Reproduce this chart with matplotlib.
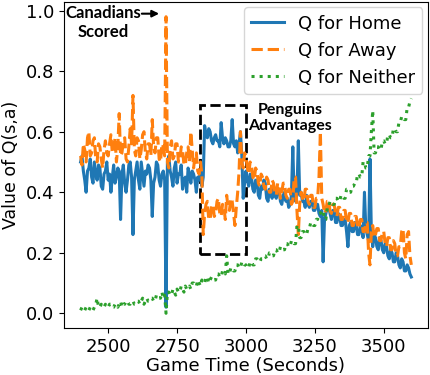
import numpy as np
import matplotlib
matplotlib.use('Agg')
import matplotlib.pyplot as plt
from matplotlib.patches import Rectangle

# Q values sampled every 5 seconds from 2400 s to 3600 s (one row = 100 s)
start_time = 2400
step = 5

q_home = [
    0.50, 0.52, 0.47, 0.44, 0.40, 0.47, 0.48, 0.51, 0.45, 0.43, 0.50, 0.46, 0.44, 0.49, 0.48, 0.42, 0.41, 0.46, 0.47, 0.50,  # 2400
    0.44, 0.46, 0.40, 0.45, 0.49, 0.43, 0.45, 0.48, 0.47, 0.31, 0.46, 0.49, 0.43, 0.40, 0.44, 0.49, 0.50, 0.45, 0.26, 0.44,  # 2500
    0.47, 0.50, 0.44, 0.41, 0.50, 0.46, 0.42, 0.47, 0.46, 0.49, 0.48, 0.44, 0.32, 0.43, 0.45, 0.50, 0.49, 0.44, 0.42, 0.46,  # 2600
    0.47, 0.44, 0.02, 0.50, 0.52, 0.47, 0.45, 0.42, 0.48, 0.50, 0.43, 0.46, 0.46, 0.49, 0.41, 0.44, 0.45, 0.40, 0.48, 0.46,  # 2700
    0.43, 0.47, 0.46, 0.44, 0.40, 0.45, 0.44, 0.47, 0.42, 0.45, 0.62, 0.59, 0.58, 0.61, 0.60, 0.57, 0.56, 0.58, 0.59, 0.57,  # 2800
    0.57, 0.55, 0.63, 0.58, 0.56, 0.58, 0.57, 0.55, 0.55, 0.57, 0.64, 0.56, 0.55, 0.57, 0.53, 0.56, 0.60, 0.52, 0.38, 0.43,  # 2900
    0.47, 0.44, 0.42, 0.46, 0.45, 0.41, 0.40, 0.44, 0.44, 0.39, 0.38, 0.42, 0.41, 0.44, 0.43, 0.38, 0.37, 0.41, 0.40, 0.38,  # 3000
    0.42, 0.39, 0.38, 0.41, 0.41, 0.37, 0.36, 0.39, 0.40, 0.37, 0.38, 0.35, 0.36, 0.39, 0.55, 0.38, 0.37, 0.40, 0.57, 0.39,  # 3100
    0.40, 0.37, 0.37, 0.35, 0.39, 0.36, 0.35, 0.37, 0.37, 0.34, 0.34, 0.36, 0.36, 0.33, 0.32, 0.34, 0.17, 0.31, 0.33, 0.35,  # 3200
    0.36, 0.33, 0.31, 0.34, 0.34, 0.30, 0.30, 0.33, 0.32, 0.29, 0.29, 0.31, 0.31, 0.27, 0.22, 0.29, 0.30, 0.27, 0.27, 0.30,  # 3300
    0.29, 0.26, 0.26, 0.29, 0.28, 0.25, 0.40, 0.28, 0.26, 0.24, 0.51, 0.27, 0.22, 0.26, 0.25, 0.22, 0.21, 0.25, 0.24, 0.21,  # 3400
    0.20, 0.23, 0.22, 0.19, 0.18, 0.21, 0.20, 0.17, 0.17, 0.20, 0.19, 0.16, 0.15, 0.18, 0.17, 0.14, 0.14, 0.16, 0.15, 0.13,  # 3500
    0.12,                                                                                                                    # 3600
]

q_away = [
    0.52, 0.49, 0.56, 0.54, 0.50, 0.58, 0.60, 0.52, 0.53, 0.57, 0.58, 0.51, 0.50, 0.56, 0.55, 0.51, 0.48, 0.54, 0.57, 0.53,  # 2400
    0.52, 0.56, 0.59, 0.53, 0.54, 0.58, 0.50, 0.55, 0.66, 0.52, 0.53, 0.57, 0.58, 0.51, 0.50, 0.55, 0.61, 0.56, 0.72, 0.54,  # 2500
    0.52, 0.58, 0.57, 0.51, 0.54, 0.59, 0.60, 0.53, 0.51, 0.56, 0.56, 0.52, 0.64, 0.55, 0.53, 0.58, 0.58, 0.51, 0.50, 0.56,  # 2600
    0.55, 0.52, 0.98, 0.50, 0.48, 0.55, 0.57, 0.51, 0.52, 0.56, 0.56, 0.50, 0.50, 0.55, 0.54, 0.49, 0.49, 0.53, 0.55, 0.50,  # 2700
    0.60, 0.54, 0.48, 0.52, 0.53, 0.47, 0.46, 0.50, 0.46, 0.26, 0.33, 0.36, 0.37, 0.31, 0.31, 0.35, 0.36, 0.32, 0.33, 0.37,  # 2800
    0.38, 0.33, 0.32, 0.36, 0.35, 0.31, 0.39, 0.35, 0.34, 0.38, 0.37, 0.33, 0.29, 0.35, 0.40, 0.47, 0.60, 0.50, 0.48, 0.53,  # 2900
    0.52, 0.48, 0.46, 0.50, 0.49, 0.45, 0.44, 0.48, 0.47, 0.43, 0.42, 0.46, 0.45, 0.42, 0.41, 0.45, 0.44, 0.40, 0.40, 0.44,  # 3000
    0.43, 0.40, 0.39, 0.43, 0.42, 0.38, 0.40, 0.43, 0.43, 0.39, 0.38, 0.41, 0.41, 0.36, 0.37, 0.45, 0.45, 0.34, 0.26, 0.36,  # 3100
    0.40, 0.38, 0.37, 0.41, 0.41, 0.37, 0.36, 0.39, 0.39, 0.35, 0.35, 0.38, 0.38, 0.45, 0.60, 0.38, 0.36, 0.33, 0.34, 0.37,  # 3200
    0.37, 0.34, 0.33, 0.36, 0.36, 0.33, 0.32, 0.35, 0.35, 0.31, 0.31, 0.34, 0.34, 0.30, 0.30, 0.33, 0.33, 0.29, 0.29, 0.32,  # 3300
    0.32, 0.29, 0.28, 0.31, 0.31, 0.27, 0.27, 0.30, 0.30, 0.20, 0.16, 0.27, 0.29, 0.25, 0.26, 0.28, 0.28, 0.24, 0.24, 0.27,  # 3400
    0.27, 0.23, 0.22, 0.25, 0.25, 0.21, 0.21, 0.24, 0.23, 0.19, 0.19, 0.22, 0.22, 0.27, 0.28, 0.20, 0.18, 0.26, 0.27, 0.19,  # 3500
    0.16,                                                                                                                    # 3600
]

q_neither = [
    0.01, 0.02, 0.01, 0.01, 0.02, 0.01, 0.01, 0.02, 0.02, 0.01, 0.02, 0.03, 0.05, 0.02, 0.02, 0.03, 0.02, 0.02, 0.03, 0.02,  # 2400
    0.02, 0.03, 0.03, 0.02, 0.02, 0.03, 0.03, 0.02, 0.03, 0.04, 0.02, 0.03, 0.03, 0.04, 0.04, 0.03, 0.03, 0.04, 0.04, 0.03,  # 2500
    0.03, 0.04, 0.04, 0.03, 0.04, 0.05, 0.03, 0.04, 0.05, 0.04, 0.04, 0.05, 0.05, 0.04, 0.04, 0.06, 0.06, 0.05, 0.05, 0.07,  # 2600
    0.05, 0.06, 0.00, 0.07, 0.07, 0.06, 0.06, 0.08, 0.07, 0.06, 0.08, 0.07, 0.07, 0.09, 0.08, 0.07, 0.09, 0.08, 0.08, 0.09,  # 2700
    0.08, 0.10, 0.10, 0.09, 0.09, 0.11, 0.10, 0.09, 0.11, 0.10, 0.10, 0.12, 0.12, 0.10, 0.11, 0.12, 0.12, 0.11, 0.11, 0.13,  # 2800
    0.13, 0.12, 0.12, 0.14, 0.14, 0.13, 0.19, 0.13, 0.13, 0.15, 0.15, 0.14, 0.14, 0.16, 0.16, 0.15, 0.15, 0.17, 0.17, 0.16,  # 2900
    0.16, 0.15, 0.15, 0.17, 0.17, 0.16, 0.16, 0.18, 0.18, 0.17, 0.17, 0.18, 0.18, 0.19, 0.19, 0.18, 0.18, 0.20, 0.20, 0.19,  # 3000
    0.19, 0.21, 0.21, 0.20, 0.20, 0.22, 0.22, 0.21, 0.21, 0.23, 0.23, 0.22, 0.22, 0.24, 0.24, 0.23, 0.23, 0.29, 0.29, 0.25,  # 3100
    0.25, 0.27, 0.27, 0.26, 0.26, 0.28, 0.28, 0.30, 0.30, 0.29, 0.29, 0.31, 0.31, 0.33, 0.33, 0.34, 0.34, 0.31, 0.31, 0.35,  # 3200
    0.35, 0.37, 0.37, 0.36, 0.36, 0.38, 0.38, 0.37, 0.37, 0.39, 0.39, 0.38, 0.38, 0.41, 0.41, 0.40, 0.40, 0.42, 0.42, 0.43,  # 3300
    0.43, 0.46, 0.46, 0.45, 0.45, 0.50, 0.50, 0.48, 0.48, 0.52, 0.52, 0.60, 0.67, 0.53, 0.53, 0.55, 0.55, 0.54, 0.54, 0.57,  # 3400
    0.57, 0.56, 0.56, 0.59, 0.59, 0.58, 0.58, 0.61, 0.61, 0.60, 0.60, 0.63, 0.63, 0.65, 0.65, 0.64, 0.64, 0.68, 0.68, 0.70,  # 3500
    0.71,                                                                                                                    # 3600
]

game_time = start_time + step * np.arange(len(q_home))

fig, ax = plt.subplots(figsize=(4.3, 3.75), dpi=100)
fig.subplots_adjust(left=0.149, right=0.995, bottom=0.125, top=0.995)

ax.plot(game_time, q_home, color='#1f77b4', linestyle='-', linewidth=2.2, label='Q for Home')
ax.plot(game_time, q_away, color='#ff7f0e', linestyle='--', linewidth=2.2, label='Q for Away')
ax.plot(game_time, q_neither, color='#2ca02c', linestyle=':', linewidth=2.2, label='Q for Neither')

# highlighted region
ax.add_patch(Rectangle((2833, 0.197), 167, 0.49, fill=False, edgecolor='black',
                       linestyle='--', linewidth=2))
ax.text(3160, 0.645, 'Penguins\nAdvantages', ha='center', va='center',
        fontsize=11.5, fontweight='bold', family='Lato', linespacing=1.2)

ax.text(2482, 0.96, 'Canadians\nScored', ha='center', va='center',
        fontsize=12, fontweight='bold', family='Lato', linespacing=1.2)
ax.annotate('', xy=(2695, 0.99), xytext=(2612, 0.99),
            arrowprops=dict(arrowstyle='-|>', color='black', lw=1.5))

ax.set_xticks([2500, 2750, 3000, 3250, 3500])
ax.tick_params(labelsize=13)
ax.set_xlabel('Game Time (Seconds)', fontsize=13, labelpad=1)
ax.set_ylabel('Value of Q(s,a)', fontsize=12.5, labelpad=4)
ax.legend(loc='upper right', fontsize=13, handlelength=1.8, borderaxespad=0.3)

plt.savefig('out.png')
plt.close()
